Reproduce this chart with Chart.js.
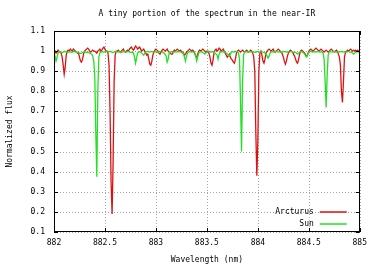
<!DOCTYPE html>
<html><head><meta charset="utf-8">
<script src="https://cdn.jsdelivr.net/npm/chart.js@4"></script>
<style>html,body{margin:0;padding:0;background:#fff}canvas{display:block}</style>
</head><body>
<canvas id="c" width="373" height="267"></canvas>
<script>
const titleText = "A tiny portion of the spectrum in the near-IR";
const xLabel = "Wavelength (nm)";
const yLabel = "Normalized flux";
const seriesNames = ["Arcturus", "Sun"];
const seriesColors = ["#dd1111", "#22e022"];
const xTicks = [882, 882.5, 883, 883.5, 884, 884.5, 885];
const yTicks = [0.1, 0.2, 0.3, 0.4, 0.5, 0.6, 0.7, 0.8, 0.9, 1, 1.1];
// sampling grid of the spectra (nm)
const wlStart = 882, wlStep = 0.01;

const arcturusFlux = [
0.995,1.0,0.99,0.995,1.005,1.0,0.995,0.99,0.97,0.93,
0.885,0.92,0.98,1.0,1.005,1.0,1.01,1.005,1.0,1.01,
1.005,1.0,0.995,0.99,0.99,0.97,0.95,0.945,0.96,0.985,
1.0,1.005,1.01,1.015,1.01,1.0,0.995,1.0,1.005,1.0,
1.0,0.995,0.99,1.0,1.005,1.01,1.0,1.005,1.015,1.02,
1.01,1.0,1.0,0.99,0.93,0.7,0.35,0.19,0.45,0.85,
0.98,1.0,1.0,1.005,1.0,0.995,1.0,1.005,1.01,1.0,
0.995,1.0,1.005,1.0,1.01,1.015,1.02,1.01,1.005,1.015,
1.025,1.02,1.01,1.015,1.02,1.01,1.0,1.005,1.01,1.0,
0.99,0.98,0.985,0.96,0.935,0.93,0.95,0.98,0.995,1.005,
1.01,1.005,1.0,0.99,0.985,0.995,1.005,1.01,1.005,1.0,
1.005,1.01,1.0,0.995,0.99,0.985,0.985,0.995,1.005,1.0,
1.005,1.01,1.005,1.0,1.005,1.0,0.995,0.99,0.98,0.985,
0.995,1.0,1.005,1.01,1.005,1.0,1.005,1.0,0.99,0.975,
0.97,0.985,1.0,1.005,1.0,1.005,1.01,1.005,1.0,0.995,
1.0,1.0,0.99,0.97,0.94,0.93,0.955,0.99,1.005,1.01,
1.0,1.005,1.015,1.01,1.0,1.005,1.01,1.0,0.99,0.98,
0.97,0.975,0.985,0.97,0.96,0.955,0.945,0.94,0.96,0.99,
1.0,1.005,1.0,0.995,1.0,1.005,1.0,0.995,1.0,1.005,
1.0,0.995,1.0,1.005,1.0,0.99,0.97,0.9,0.6,0.38,
0.55,0.9,0.99,1.0,0.98,0.95,0.94,0.96,0.99,1.0,
1.005,1.01,1.005,1.0,1.005,1.01,1.0,0.995,1.0,1.005,
1.01,1.005,1.0,0.995,0.985,0.97,0.95,0.935,0.95,0.975,
0.99,1.0,1.005,1.0,0.995,0.985,0.975,0.96,0.945,0.94,
0.96,0.985,1.0,1.005,1.0,0.995,0.99,0.98,0.975,0.985,
1.0,1.005,1.01,1.005,1.0,1.005,1.01,1.015,1.01,1.005,
1.0,1.005,1.01,1.005,1.0,0.995,1.0,1.005,1.0,0.995,
1.0,1.005,1.01,1.005,1.0,0.995,1.0,1.005,1.0,0.985,
0.97,0.93,0.8,0.745,0.85,0.97,0.995,1.0,1.005,1.0,
1.005,1.01,1.005,1.0,1.005,1.0,1.005,1.0,1.005,1.0,1.0
];

const sunFlux = [
0.99,0.975,0.95,0.97,0.99,0.995,0.997,0.995,0.993,0.995,
0.997,0.998,0.995,0.993,0.995,0.997,0.996,0.994,0.995,0.997,
0.998,0.996,0.994,0.995,0.993,0.99,0.988,0.99,0.993,0.995,
0.996,0.995,0.994,0.995,0.993,0.99,0.988,0.985,0.975,0.95,
0.88,0.6,0.375,0.8,0.97,0.99,0.995,0.997,0.996,0.995,
0.997,0.998,0.996,0.995,0.997,0.998,0.996,0.995,0.993,0.995,
0.997,0.998,0.996,0.995,0.997,0.996,0.994,0.995,0.997,0.998,
0.996,0.995,0.997,0.998,0.996,0.994,0.993,0.995,0.99,0.97,
0.94,0.965,0.99,0.995,0.997,0.995,0.99,0.985,0.98,0.99,
0.995,0.997,0.998,0.996,0.995,0.997,0.998,0.996,0.995,0.997,
0.996,0.994,0.995,0.997,0.998,0.996,0.995,0.993,0.99,0.985,
0.975,0.945,0.96,0.99,0.995,0.997,0.998,0.996,0.995,0.997,
0.996,0.995,0.997,0.998,0.996,0.994,0.99,0.985,0.97,0.95,
0.975,0.99,0.995,0.997,0.996,0.995,0.997,0.994,0.99,0.975,
0.95,0.97,0.99,0.995,0.997,0.996,0.993,0.99,0.985,0.99,
0.995,0.997,0.998,0.996,0.995,0.997,0.996,0.995,0.99,0.985,
0.98,0.96,0.985,0.995,0.997,0.996,0.995,0.997,0.995,0.99,
0.985,0.98,0.975,0.985,0.995,0.997,0.996,0.995,0.997,0.998,
0.996,0.99,0.96,0.75,0.5,0.85,0.98,0.995,0.997,0.996,
0.995,0.997,0.998,0.996,0.995,0.997,0.996,0.994,0.995,0.997,
0.998,0.996,0.995,0.997,0.996,0.995,0.993,0.99,0.985,0.975,
0.965,0.975,0.99,0.995,0.997,0.996,0.995,0.997,0.998,0.996,
0.995,0.997,0.996,0.994,0.995,0.997,0.998,0.996,0.995,0.997,
0.996,0.995,0.997,0.998,0.996,0.994,0.995,0.993,0.99,0.985,
0.99,0.995,0.997,0.996,0.995,0.99,0.985,0.975,0.97,0.985,
0.995,0.997,0.998,0.996,0.995,0.997,0.996,0.995,0.997,0.998,
0.996,0.995,0.997,0.994,0.99,0.96,0.85,0.72,0.88,0.98,
0.995,0.997,0.996,0.995,0.997,0.998,0.996,0.995,0.997,0.996,
0.995,0.997,0.998,0.996,0.995,0.997,0.996,0.995,0.997,0.998,
0.996,0.995,0.993,0.99,0.985,0.99,0.995,0.997,0.996,0.995,0.997
];

const toPoints = arr => arr.map((v, i) => ({ x: +(wlStart + i * wlStep).toFixed(2), y: v }));

const FONT = "'DejaVu Sans Mono', 'Liberation Mono', monospace";
Chart.defaults.font.family = FONT;
Chart.defaults.font.size = 8;
Chart.defaults.color = '#000';

const frame = {
  id: 'frame',
  beforeDatasetsDraw(chart) {
    const { ctx, chartArea: a, scales: { x, y } } = chart;
    ctx.save();
    ctx.strokeStyle = '#a8a8a8';
    ctx.lineWidth = 1;
    ctx.setLineDash([1, 2]);
    xTicks.forEach(v => {
      const px = Math.round(x.getPixelForValue(v)) + 0.5;
      ctx.beginPath(); ctx.moveTo(px, a.top); ctx.lineTo(px, a.bottom); ctx.stroke();
    });
    yTicks.forEach(v => {
      const py = Math.round(y.getPixelForValue(v)) + 0.5;
      ctx.beginPath(); ctx.moveTo(a.left, py); ctx.lineTo(a.right, py); ctx.stroke();
    });
    ctx.restore();
  },
  afterDatasetsDraw(chart) {
    const { ctx, chartArea: a, scales: { x, y } } = chart;
    ctx.save();
    ctx.strokeStyle = '#000';
    ctx.lineWidth = 1;
    const tl = 4;
    xTicks.forEach(v => {
      const px = Math.round(x.getPixelForValue(v)) + 0.5;
      ctx.beginPath();
      ctx.moveTo(px, a.bottom); ctx.lineTo(px, a.bottom - tl);
      ctx.moveTo(px, a.top); ctx.lineTo(px, a.top + tl);
      ctx.stroke();
    });
    yTicks.forEach(v => {
      const py = Math.round(y.getPixelForValue(v)) + 0.5;
      ctx.beginPath();
      ctx.moveTo(a.left, py); ctx.lineTo(a.left + tl, py);
      ctx.moveTo(a.right, py); ctx.lineTo(a.right - tl, py);
      ctx.stroke();
    });
    ctx.strokeRect(Math.round(a.left) + 0.5, Math.round(a.top) + 0.5,
      Math.round(a.right - a.left) - 1, Math.round(a.bottom - a.top) - 1);
    // key
    ctx.font = '8px ' + FONT;
    ctx.textAlign = 'right';
    ctx.textBaseline = 'middle';
    const keyY = [a.bottom - 20, a.bottom - 8];
    chart.data.datasets.forEach((ds, i) => {
      ctx.fillStyle = '#000';
      ctx.fillText(ds.label, a.right - 46, keyY[i]);
      ctx.strokeStyle = ds.borderColor;
      ctx.lineWidth = 1.5;
      ctx.beginPath();
      ctx.moveTo(a.right - 40, keyY[i]); ctx.lineTo(a.right - 13, keyY[i]);
      ctx.stroke();
    });
    ctx.restore();
  }
};

new Chart(document.getElementById('c'), {
  type: 'line',
  data: {
    datasets: [
      { label: seriesNames[0], data: toPoints(arcturusFlux), borderColor: seriesColors[0], borderWidth: 1.3, pointRadius: 0, tension: 0, order: 2 },
      { label: seriesNames[1], data: toPoints(sunFlux), borderColor: seriesColors[1], borderWidth: 1.3, pointRadius: 0, tension: 0, order: 1 }
    ]
  },
  options: {
    responsive: false,
    animation: false,
    devicePixelRatio: 1,
    events: [],
    layout: { padding: { left: 0, right: 7, top: 0, bottom: 0 } },
    plugins: {
      legend: { display: false },
      tooltip: { enabled: false },
      title: {
        display: true, text: titleText, fullSize: false,
        font: { size: 8, weight: 'normal', family: FONT }, color: '#000',
        padding: { top: 8.7, bottom: 12.7 }
      }
    },
    scales: {
      x: {
        type: 'linear', min: 882, max: 885,
        afterBuildTicks: s => { s.ticks = xTicks.map(v => ({ value: v })); },
        afterFit: s => { s.height = 35; },
        ticks: { padding: 6, maxRotation: 0, autoSkip: false, callback: v => String(v) },
        grid: { display: false, drawTicks: false },
        border: { display: false },
        title: { display: true, text: xLabel, padding: { top: 0, bottom: 2 } }
      },
      y: {
        type: 'linear', min: 0.1, max: 1.1,
        afterBuildTicks: s => { s.ticks = yTicks.map(v => ({ value: v })); },
        afterFit: s => { s.width = 54; },
        ticks: { padding: 9, autoSkip: false, callback: v => String(v) },
        grid: { display: false, drawTicks: false },
        border: { display: false },
        title: { display: true, text: yLabel, padding: { top: 5, bottom: 0 } }
      }
    }
  },
  plugins: [frame]
});
</script>
</body></html>
